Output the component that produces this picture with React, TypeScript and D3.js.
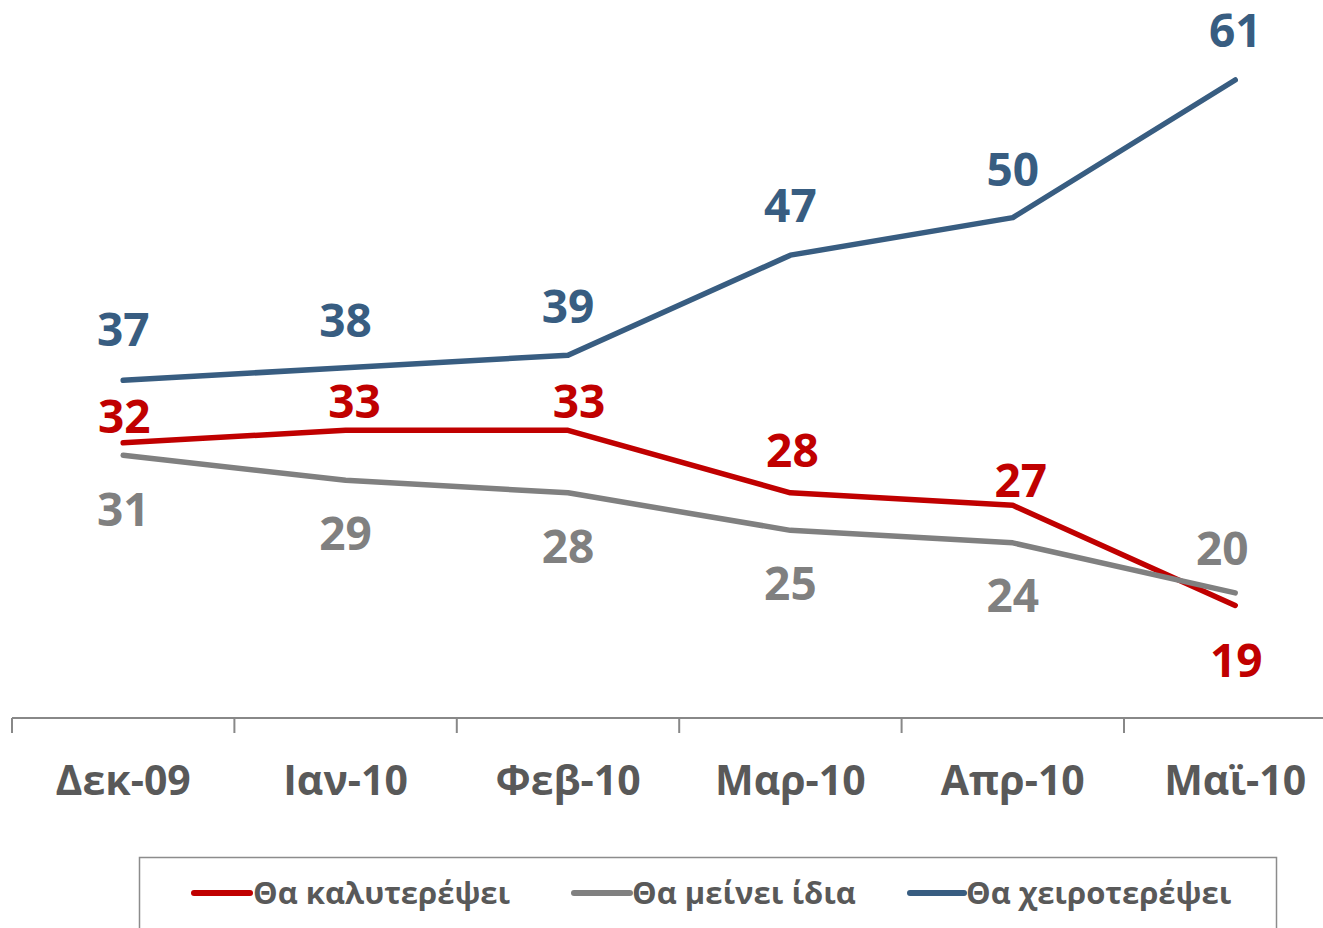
import React from "react";
import * as d3 from "d3";

const categories = ["Δεκ-09", "Ιαν-10", "Φεβ-10", "Μαρ-10", "Απρ-10", "Μαϊ-10"];
const better = [32, 33, 33, 28, 27, 19];
const same = [31, 29, 28, 25, 24, 20];
const worse = [37, 38, 39, 47, 50, 61];
const seriesNames = ["Θα καλυτερέψει", "Θα μείνει ίδια", "Θα χειροτερέψει"];

// label offsets relative to point (layout only)
const betterDy = [-10, -12, -12, -26, -8, 72];
const betterDx = [1, 9, 11, 2, 8, 1];
const sameDy = [71, 70, 70, 70, 69, -28];
const sameDx = [0, 0, 0, 0, 0, -13];
const worseDy = [-34, -31, -32, -33, -32, -33];
const worseDx = [0, 0, 0, 0, 0, 0];

const W = 1323;
const H = 928;
const FONT = "'Open Sans', 'Noto Sans', sans-serif";

export default function App() {
  const x = d3.scaleBand<string>().domain(categories).range([12, 12 + 222.4 * 6]);
  const y = d3.scaleLinear().domain([10, 61]).range([718, 80]);
  const cx = (i: number) => (x(categories[i]) as number) + x.bandwidth() / 2;
  const line = d3
    .line<number>()
    .x((_, i) => cx(i))
    .y((d) => y(d));

  const series = [
    { name: seriesNames[0], values: better, dy: betterDy, dx: betterDx, color: "#C00000" },
    { name: seriesNames[1], values: same, dy: sameDy, dx: sameDx, color: "#808080" },
    { name: seriesNames[2], values: worse, dy: worseDy, dx: worseDx, color: "#385D81" },
  ];

  const legendItems = [
    { x1: 194, x2: 250, tx: 253 },
    { x1: 574, x2: 630, tx: 632 },
    { x1: 910, x2: 964, tx: 966 },
  ];

  return (
    <svg
      width={W}
      height={H}
      style={{ position: "absolute", left: 0, top: 0, background: "#fff" }}
      fontFamily={FONT}
    >
      {/* axis */}
      <line x1={12} x2={W} y1={718} y2={718} stroke="#888" strokeWidth={2} />
      {categories.map((c, i) => (
        <line
          key={"t" + i}
          x1={x(c) as number}
          x2={x(c) as number}
          y1={718}
          y2={733}
          stroke="#888"
          strokeWidth={2}
        />
      ))}
      {categories.map((c, i) => (
        <text
          key={"c" + i}
          x={cx(i)}
          y={795}
          textAnchor="middle"
          fontSize={41}
          fontWeight="bold"
          fill="#595959"
        >
          {c}
        </text>
      ))}

      {series.map((s, k) => (
        <path
          key={"p" + k}
          d={line(s.values) as string}
          fill="none"
          stroke={s.color}
          strokeWidth={5.5}
          strokeLinecap="round"
          strokeLinejoin="round"
        />
      ))}
      {series.map((s, k) =>
        s.values.map((v, i) => (
          <text
            key={"l" + k + "-" + i}
            x={cx(i) + s.dx[i]}
            y={y(v) + s.dy[i]}
            textAnchor="middle"
            fontSize={46}
            fontWeight="bold"
            fill={s.color}
          >
            {v}
          </text>
        ))
      )}

      {/* legend */}
      <rect x={139.5} y={857.5} width={1137} height={100} fill="none" stroke="#8c8c8c" strokeWidth={1.5} />
      {series.map((s, k) => (
        <g key={"lg" + k}>
          <line
            x1={legendItems[k].x1}
            x2={legendItems[k].x2}
            y1={893}
            y2={893}
            stroke={s.color}
            strokeWidth={6}
            strokeLinecap="round"
          />
          <text
            x={legendItems[k].tx}
            y={904}
            fontSize={31}
            fontWeight="bold"
            fill="#595959"
          >
            {s.name}
          </text>
        </g>
      ))}
    </svg>
  );
}
